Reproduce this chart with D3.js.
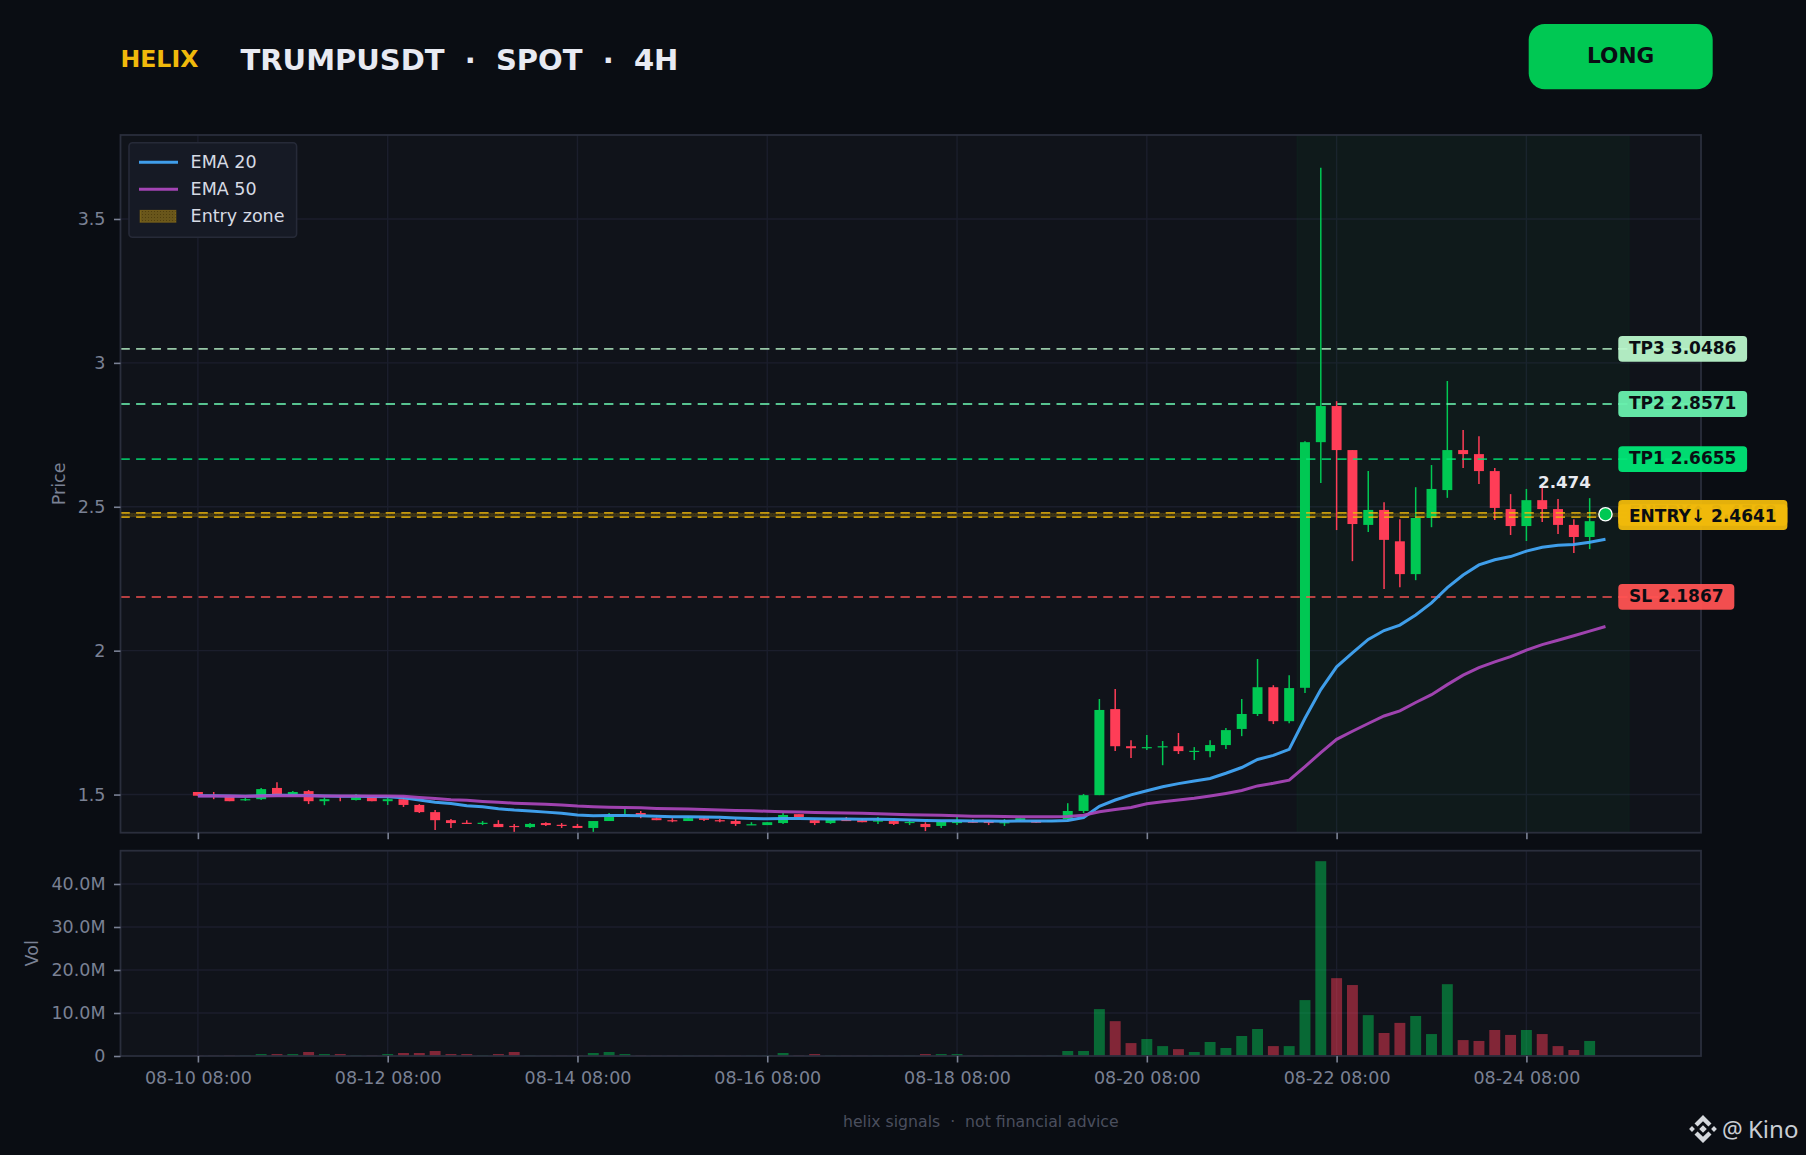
<!DOCTYPE html>
<html>
<head>
<meta charset="utf-8">
<script src="https://cdn.jsdelivr.net/npm/d3@7"></script>
<style>
  html, body { margin: 0; padding: 0; background: #0a0d13; }
  svg { display: block; }
  text { font-family: "DejaVu Sans", sans-serif; white-space: pre; }
</style>
</head>
<body>
<div id="chart_div"></div>
<script>
var open_prices = [1.509,1.497,1.495,1.481,1.484,1.523,1.495,1.512,1.477,1.497,1.481,1.495,1.477,1.484,1.464,1.439,1.411,1.402,1.401,1.398,1.391,1.387,1.401,1.395,1.391,1.384,1.408,1.430,1.436,1.418,1.411,1.408,1.418,1.411,1.408,1.396,1.394,1.401,1.432,1.411,1.401,1.412,1.411,1.408,1.408,1.403,1.398,1.391,1.404,1.406,1.408,1.402,1.411,1.410,1.410,1.415,1.443,1.498,1.797,1.668,1.663,1.666,1.668,1.650,1.651,1.672,1.728,1.780,1.873,1.755,1.871,2.7245,2.850,2.697,2.437,2.489,2.380,2.266,2.461,2.558,2.697,2.683,2.624,2.492,2.433,2.523,2.492,2.437,2.395];
var high_prices = [1.509,1.509,1.495,1.489,1.523,1.543,1.512,1.516,1.490,1.497,1.502,1.495,1.492,1.489,1.467,1.446,1.415,1.411,1.408,1.411,1.398,1.401,1.404,1.401,1.398,1.408,1.436,1.450,1.443,1.420,1.418,1.422,1.422,1.415,1.415,1.404,1.404,1.436,1.432,1.415,1.415,1.422,1.415,1.422,1.414,1.408,1.404,1.408,1.422,1.415,1.411,1.415,1.418,1.410,1.411,1.470,1.502,1.832,1.867,1.689,1.707,1.686,1.714,1.665,1.689,1.731,1.832,1.971,1.880,1.915,2.728,3.678,2.867,2.697,2.624,2.516,2.457,2.568,2.645,2.937,2.767,2.745,2.635,2.544,2.562,2.565,2.527,2.457,2.530];
var low_prices = [1.496,1.484,1.477,1.478,1.481,1.495,1.495,1.467,1.463,1.477,1.479,1.477,1.464,1.457,1.436,1.377,1.384,1.399,1.394,1.387,1.370,1.384,1.391,1.384,1.384,1.370,1.408,1.429,1.418,1.411,1.404,1.408,1.408,1.404,1.391,1.394,1.394,1.398,1.422,1.394,1.398,1.408,1.404,1.398,1.394,1.394,1.373,1.384,1.394,1.401,1.394,1.391,1.408,1.401,1.408,1.412,1.436,1.498,1.651,1.627,1.655,1.602,1.641,1.620,1.630,1.658,1.703,1.773,1.745,1.748,1.853,2.583,2.419,2.311,2.412,2.214,2.220,2.245,2.429,2.531,2.635,2.579,2.454,2.402,2.381,2.447,2.405,2.339,2.353];
var close_prices = [1.496,1.496,1.477,1.484,1.519,1.495,1.509,1.477,1.484,1.496,1.490,1.477,1.484,1.464,1.439,1.411,1.401,1.399,1.402,1.387,1.388,1.398,1.394,1.394,1.384,1.408,1.422,1.431,1.429,1.411,1.408,1.418,1.412,1.408,1.398,1.397,1.404,1.429,1.422,1.401,1.415,1.411,1.404,1.410,1.398,1.405,1.387,1.405,1.405,1.405,1.401,1.404,1.418,1.402,1.410,1.443,1.498,1.794,1.668,1.661,1.665,1.668,1.651,1.652,1.672,1.724,1.780,1.873,1.755,1.870,2.7245,2.850,2.697,2.440,2.489,2.385,2.266,2.461,2.562,2.697,2.683,2.624,2.496,2.433,2.523,2.492,2.437,2.395,2.450];
var volumes = [0.1,0.1,0.15,0.15,0.45,0.45,0.45,0.93,0.45,0.45,0.2,0.15,0.45,0.7,0.7,1.16,0.45,0.45,0.2,0.45,0.93,0.15,0.1,0.1,0.15,0.7,0.93,0.45,0.15,0.1,0.1,0.1,0.1,0.1,0.1,0.1,0.15,0.7,0.2,0.45,0.15,0.1,0.1,0.1,0.1,0.1,0.45,0.45,0.45,0.1,0.1,0.1,0.1,0.1,0.15,1.16,1.16,10.9,8.1,3.0,3.95,2.3,1.6,0.93,3.26,1.86,4.65,6.28,2.3,2.3,13.0,45.3,18.1,16.5,9.5,5.35,7.7,9.3,5.1,16.7,3.7,3.5,6.05,4.9,6.05,5.1,2.3,1.4,3.5];
var ema_20 = [1.496,1.496,1.495,1.494,1.496,1.498,1.498,1.497,1.495,1.494,1.494,1.493,1.492,1.489,1.481,1.473,1.469,1.461,1.458,1.451,1.446,1.443,1.439,1.435,1.429,1.426,1.427,1.427,1.426,1.425,1.423,1.423,1.422,1.421,1.419,1.417,1.416,1.417,1.417,1.416,1.415,1.415,1.414,1.414,1.413,1.412,1.410,1.409,1.409,1.408,1.408,1.407,1.408,1.408,1.408,1.410,1.420,1.459,1.481,1.499,1.513,1.527,1.538,1.547,1.556,1.574,1.594,1.622,1.636,1.657,1.765,1.865,1.944,1.992,2.039,2.070,2.089,2.124,2.166,2.219,2.263,2.298,2.316,2.327,2.346,2.359,2.366,2.369,2.377,2.387];
var ema_50 = [1.495,1.495,1.495,1.494,1.495,1.496,1.496,1.496,1.495,1.495,1.495,1.495,1.495,1.494,1.490,1.486,1.482,1.480,1.476,1.473,1.470,1.468,1.466,1.464,1.460,1.458,1.456,1.455,1.454,1.452,1.451,1.450,1.448,1.446,1.445,1.444,1.442,1.440,1.439,1.438,1.437,1.436,1.435,1.433,1.432,1.430,1.429,1.428,1.426,1.425,1.425,1.424,1.423,1.423,1.423,1.424,1.428,1.440,1.448,1.455,1.468,1.475,1.481,1.487,1.495,1.504,1.514,1.530,1.539,1.550,1.597,1.646,1.692,1.720,1.747,1.773,1.791,1.820,1.847,1.882,1.915,1.941,1.961,1.979,2.002,2.021,2.036,2.052,2.068,2.084];

var x_tick_index = [0, 12, 24, 36, 48, 60, 72, 84];
var x_tick_labels = ['08-10 08:00', '08-12 08:00', '08-14 08:00', '08-16 08:00', '08-18 08:00', '08-20 08:00', '08-22 08:00', '08-24 08:00'];
var price_ticks = [1.5, 2, 2.5, 3, 3.5];
var vol_ticks = [0, 10, 20, 30, 40];
var vol_tick_labels = ['0', '10.0M', '20.0M', '30.0M', '40.0M'];

// horizontal levels, drawn back to front so the real entry sits over the zone top
var level_names = ['TP3', 'TP2', 'TP1', 'ENTRY\u2191', 'ENTRY\u2193', 'SL'];
var level_prices = [3.0486, 2.8571, 2.6655, 2.4788, 2.4641, 2.1867];
var level_colors = ['#b9f6ca', '#69f0ae', '#00e676', '#f0b90b', '#f0b90b', '#ff5252'];

var last_index = 89;
var last_price = 2.474;
var trade_window = [69.5, 90.5];
var entry_zone = [2.4641, 2.4788];

function draw_chart() {
    var width = 1806, height = 1155;
    var main_box = {left: 120.5, right: 1701, top: 135, bottom: 832.7};
    var vol_box = {left: 120.5, right: 1701, top: 850.7, bottom: 1056};

    var green = '#00c853', red = '#ff3d57';
    var tick_color = '#7a8194';

    var x = d3.scaleLinear().domain([-4.894, 95.04]).range([main_box.left, main_box.right]);
    var y = d3.scaleLinear().domain([1.3675, 3.7918]).range([main_box.bottom, main_box.top]);
    var y_vol = d3.scaleLinear().domain([0, 47.74]).range([vol_box.bottom, vol_box.top]);

    var svg = d3.select('#chart_div').append('svg')
        .attr('width', width)
        .attr('height', height)
        .attr('viewBox', `0 0 ${width} ${height}`);

    var defs = svg.append('defs');
    var hatch = defs.append('pattern')
        .attr('id', 'zone_hatch')
        .attr('width', 3).attr('height', 3)
        .attr('patternUnits', 'userSpaceOnUse');
    hatch.append('rect').attr('width', 3).attr('height', 3).attr('fill', '#f0b90b').attr('fill-opacity', 0.38);
    hatch.append('rect').attr('x', 1).attr('y', 1).attr('width', 1).attr('height', 1).attr('fill', '#4a3a0a').attr('fill-opacity', 0.8);

    svg.append('rect').attr('width', width).attr('height', height).attr('fill', '#0a0d13');

    // panel backgrounds
    [main_box, vol_box].forEach(function(b) {
        svg.append('rect')
            .attr('x', b.left).attr('y', b.top)
            .attr('width', b.right - b.left).attr('height', b.bottom - b.top)
            .attr('fill', '#10131a');
    });

    // grid
    var grid = svg.append('g').attr('stroke', '#1b1e2c').attr('stroke-width', 1.4);
    [main_box, vol_box].forEach(function(b) {
        grid.append('g').selectAll('line').data(x_tick_index).enter().append('line')
            .attr('x1', d => x(d)).attr('x2', d => x(d))
            .attr('y1', b.top).attr('y2', b.bottom);
    });
    grid.append('g').selectAll('line').data(price_ticks).enter().append('line')
        .attr('x1', main_box.left).attr('x2', main_box.right)
        .attr('y1', d => y(d)).attr('y2', d => y(d));
    grid.append('g').selectAll('line').data(vol_ticks.slice(1)).enter().append('line')
        .attr('x1', vol_box.left).attr('x2', vol_box.right)
        .attr('y1', d => y_vol(d)).attr('y2', d => y_vol(d));

    // trade window and entry zone
    svg.append('rect')
        .attr('x', x(trade_window[0])).attr('y', main_box.top)
        .attr('width', x(trade_window[1]) - x(trade_window[0]))
        .attr('height', main_box.bottom - main_box.top)
        .attr('fill', green).attr('fill-opacity', 0.04)
        .attr('stroke', green).attr('stroke-opacity', 0.05);

    svg.append('rect')
        .attr('x', main_box.left).attr('width', main_box.right - main_box.left)
        .attr('y', y(entry_zone[1])).attr('height', y(entry_zone[0]) - y(entry_zone[1]))
        .attr('fill', 'url(#zone_hatch)').attr('opacity', 0.55);

    // candles
    var candle_index = d3.range(open_prices.length);
    var is_up = i => close_prices[i] >= open_prices[i];
    var body_w = x(0.63) - x(0);
    var vol_w = x(0.69) - x(0);

    var candles = svg.append('g');
    candles.selectAll('line').data(candle_index).enter().append('line')
        .attr('x1', d => x(d)).attr('x2', d => x(d))
        .attr('y1', d => y(high_prices[d])).attr('y2', d => y(low_prices[d]))
        .attr('stroke', d => is_up(d) ? green : red)
        .attr('stroke-width', 1.5);
    candles.selectAll('rect').data(candle_index).enter().append('rect')
        .attr('x', d => x(d) - body_w / 2)
        .attr('width', body_w)
        .attr('y', d => y(Math.max(open_prices[d], close_prices[d])))
        .attr('height', d => Math.max(1.2, Math.abs(y(open_prices[d]) - y(close_prices[d]))))
        .attr('fill', d => is_up(d) ? green : red);

    // volume
    svg.append('g').selectAll('rect').data(candle_index).enter().append('rect')
        .attr('x', d => x(d) - vol_w / 2)
        .attr('width', vol_w)
        .attr('y', d => y_vol(volumes[d]))
        .attr('height', d => y_vol(0) - y_vol(volumes[d]))
        .attr('fill', d => is_up(d) ? green : red)
        .attr('fill-opacity', 0.48);

    // level lines
    svg.append('g').selectAll('line').data(level_prices).enter().append('line')
        .attr('x1', main_box.left).attr('x2', main_box.right)
        .attr('y1', d => y(d)).attr('y2', d => y(d))
        .attr('stroke', (d, i) => level_colors[i])
        .attr('stroke-width', 1.9)
        .attr('stroke-opacity', (d, i) => i == 5 ? 0.7 : 0.8)
        .attr('stroke-dasharray', '9.3 6.3');

    // EMAs
    var ema_line = d3.line().x((d, i) => x(i)).y(d => y(d));
    svg.append('path').datum(ema_20).attr('d', ema_line)
        .attr('fill', 'none').attr('stroke', '#42a5f5').attr('stroke-opacity', 0.95).attr('stroke-width', 3);
    svg.append('path').datum(ema_50).attr('d', ema_line)
        .attr('fill', 'none').attr('stroke', '#ab47bc').attr('stroke-opacity', 0.92).attr('stroke-width', 3);

    // panel frames
    [main_box, vol_box].forEach(function(b) {
        svg.append('rect')
            .attr('x', b.left).attr('y', b.top)
            .attr('width', b.right - b.left).attr('height', b.bottom - b.top)
            .attr('fill', 'none')
            .attr('stroke', '#2a2e3c').attr('stroke-width', 1.8);
    });

    // axes
    function style_axis(g) {
        g.select('.domain').remove();
        g.selectAll('.tick line').attr('stroke', tick_color).attr('stroke-width', 1.6);
        g.selectAll('.tick text').attr('fill', tick_color).style('font-size', '17.5px')
            .style('font-family', '"DejaVu Sans", sans-serif');
    }

    svg.append('g').attr('transform', `translate(${main_box.left},0)`)
        .call(d3.axisLeft(y).tickValues(price_ticks).tickSize(6.5).tickPadding(8.5).tickFormat(d3.format('~g')))
        .call(style_axis);
    svg.append('g').attr('transform', `translate(${vol_box.left},0)`)
        .call(d3.axisLeft(y_vol).tickValues(vol_ticks).tickSize(6.5).tickPadding(8.5).tickFormat((d, i) => vol_tick_labels[i]))
        .call(style_axis);
    svg.append('g').attr('transform', `translate(0,${main_box.bottom})`)
        .call(d3.axisBottom(x).tickValues(x_tick_index).tickSize(6.5).tickFormat(''))
        .call(style_axis);
    svg.append('g').attr('transform', `translate(0,${vol_box.bottom})`)
        .call(d3.axisBottom(x).tickValues(x_tick_index).tickSize(6.5).tickPadding(9).tickFormat((d, i) => x_tick_labels[i]))
        .call(style_axis);

    svg.append('text')
        .attr('transform', `translate(65,${(main_box.top + main_box.bottom) / 2}) rotate(-90)`)
        .attr('text-anchor', 'middle').attr('fill', tick_color).style('font-size', '17.5px')
        .text('Price');
    svg.append('text')
        .attr('transform', `translate(38,${(vol_box.top + vol_box.bottom) / 2}) rotate(-90)`)
        .attr('text-anchor', 'middle').attr('fill', tick_color).style('font-size', '17.5px')
        .text('Vol');

    // level labels
    var labels = svg.append('g');
    level_prices.forEach(function(p, i) {
        var g = labels.append('g');
        var rect = g.append('rect')
            .attr('x', 1618.3).attr('y', y(p) - 12.9)
            .attr('height', 25.8).attr('rx', 4)
            .attr('fill', level_colors[i]).attr('fill-opacity', 0.95);
        var label = g.append('text')
            .attr('x', 1629).attr('y', y(p) + 4.8)
            .attr('fill', '#0a0d13')
            .style('font-size', '17px').style('font-weight', 700)
            .text(`${level_names[i]} ${p.toFixed(4)}`);
        rect.attr('width', label.node().getComputedTextLength() + 21.4);
    });

    // last price
    svg.append('circle')
        .attr('cx', x(last_index)).attr('cy', y(last_price)).attr('r', 6.6)
        .attr('fill', green).attr('stroke', '#ffffff').attr('stroke-width', 1.4);
    svg.append('text')
        .attr('x', x(last_index) - 41).attr('y', y(last_price) - 26)
        .attr('text-anchor', 'middle').attr('fill', '#e8eaf0')
        .style('font-size', '16.7px').style('font-weight', 700)
        .text(last_price.toFixed(3));

    // legend
    var legend = svg.append('g');
    legend.append('rect')
        .attr('x', 129).attr('y', 142.7).attr('width', 167.6).attr('height', 94.6).attr('rx', 3.5)
        .attr('fill', '#161a25').attr('stroke', '#262a38').attr('stroke-width', 1.6);
    var legend_names = ['EMA 20', 'EMA 50', 'Entry zone'];
    var legend_colors = ['#42a5f5', '#ab47bc', null];
    legend_names.forEach(function(name, i) {
        var row_y = 162.3 + i * 27;
        if (legend_colors[i]) {
            legend.append('line')
                .attr('x1', 139).attr('x2', 178).attr('y1', row_y).attr('y2', row_y)
                .attr('stroke', legend_colors[i]).attr('stroke-opacity', 0.95).attr('stroke-width', 3);
        } else {
            legend.append('rect')
                .attr('x', 140).attr('y', row_y - 6).attr('width', 36).attr('height', 12)
                .attr('fill', 'url(#zone_hatch)').attr('stroke', '#f0b90b').attr('stroke-opacity', 0.25);
        }
        legend.append('text')
            .attr('x', 190.6).attr('y', row_y + 5.8)
            .attr('fill', '#d6dae4').style('font-size', '17.5px')
            .text(name);
    });

    // header
    svg.append('text').attr('x', 120.5).attr('y', 66.7)
        .attr('fill', '#f0b90b').style('font-size', '23.6px').style('font-weight', 700)
        .text('HELIX');
    svg.append('text').attr('x', 240.5).attr('y', 70)
        .attr('fill', '#e8eaf2').style('font-size', '29px').style('font-weight', 700)
        .text('TRUMPUSDT  \u00b7  SPOT  \u00b7  4H');
    svg.append('rect')
        .attr('x', 1528.7).attr('y', 24).attr('width', 184).attr('height', 65.3).attr('rx', 16)
        .attr('fill', green);
    svg.append('text').attr('x', 1620.7).attr('y', 63)
        .attr('text-anchor', 'middle').attr('fill', '#0a0d13')
        .style('font-size', '21.6px').style('font-weight', 700)
        .text('LONG');

    // footer
    svg.append('text').attr('x', 980.8).attr('y', 1127.2)
        .attr('text-anchor', 'middle').attr('fill', '#4a4f5e').style('font-size', '15.7px')
        .text('helix signals  \u00b7  not financial advice');

    // watermark
    var mark = svg.append('g').attr('transform', 'translate(1703,1129)').attr('fill', '#d4d7dc');
    var diamond = (cx, r) => `M${cx - r},0L${cx},${-r}L${cx + r},0L${cx},${r}Z`;
    mark.append('path').attr('d', diamond(0, 3.8) + diamond(-11, 2.9) + diamond(11, 2.9));
    mark.append('path').attr('d', 'M0,-14L8.5,-5.5L5.4,-2.4L0,-7.8L-5.4,-2.4L-8.5,-5.5Z');
    mark.append('path').attr('d', 'M0,14L8.5,5.5L5.4,2.4L0,7.8L-5.4,2.4L-8.5,5.5Z');
    svg.append('text').attr('x', 1722).attr('y', 1137.5)
        .attr('fill', '#c9cdd4').style('font-family', '"Noto Sans", sans-serif').style('font-size', '23px')
        .text('@');
    svg.append('text').attr('x', 1748).attr('y', 1137.5)
        .attr('fill', '#c9cdd4').style('font-family', '"Noto Sans", sans-serif').style('font-size', '24px')
        .text('Kino');
}

document.addEventListener('DOMContentLoaded', draw_chart);
</script>
</body>
</html>
